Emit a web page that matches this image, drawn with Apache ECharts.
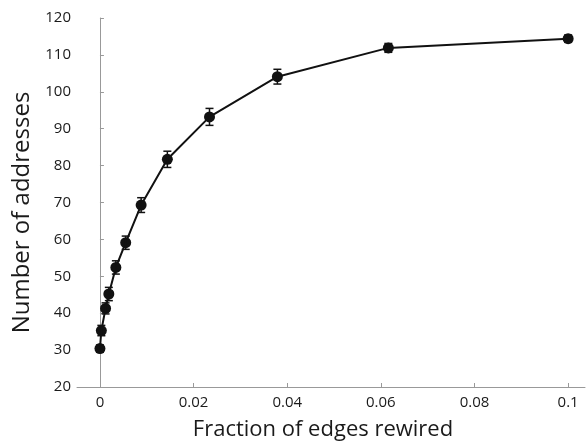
<!DOCTYPE html>
<html>
<head>
<meta charset="utf-8">
<script src="https://cdn.jsdelivr.net/npm/echarts@6/dist/echarts.min.js"></script>
<style>
  html, body { margin: 0; padding: 0; background: #fff; }
  #chart { width: 587px; height: 443px; }
</style>
</head>
<body>
<div id="chart"></div>
<script>
// fraction of edges rewired (x) and number of addresses (y)
const fractions = [0, 0.0003, 0.0012, 0.0019, 0.0034, 0.0055, 0.0088, 0.0144, 0.0234, 0.0379, 0.0616, 0.1];
const addresses = [30.4, 35.3, 41.3, 45.2, 52.4, 59.1, 69.3, 81.7, 93.2, 104.1, 111.9, 114.4];
// error bar half size
const errors = [1.0, 1.4, 1.5, 1.8, 1.8, 1.8, 2.0, 2.2, 2.3, 2.0, 1.2, 1.0];
// tick labels
const xTicks = [0, 0.02, 0.04, 0.06, 0.08, 0.1];
const yTicks = [20, 30, 40, 50, 60, 70, 80, 90, 100, 110, 120];

const chart = echarts.init(document.getElementById('chart'));

const linePoints = fractions.map((x, i) => [x, addresses[i]]);
const errPoints = fractions.map((x, i) => [x, addresses[i] - errors[i], addresses[i] + errors[i]]);

const textColor = '#1a1a1a';
const axisColor = '#999';
const font = 'Open Sans';

// 误差线
function renderErr(params, api) {
  const lo = api.coord([api.value(0), api.value(1)]);
  const hi = api.coord([api.value(0), api.value(2)]);
  const w = 4;
  const style = { stroke: '#111', lineWidth: 1.5 };
  return {
    type: 'group',
    children: [
      { type: 'line', shape: { x1: lo[0], y1: lo[1], x2: hi[0], y2: hi[1] }, style: style },
      { type: 'line', shape: { x1: lo[0] - w, y1: lo[1], x2: lo[0] + w, y2: lo[1] }, style: style },
      { type: 'line', shape: { x1: hi[0] - w, y1: hi[1], x2: hi[0] + w, y2: hi[1] }, style: style }
    ]
  };
}

const option = {
  animation: false,
  backgroundColor: '#fff',
  grid: { left: 77, right: 2, top: 18, bottom: 56, containLabel: false, outerBoundsMode: 'none' },
  xAxis: {
    type: 'value',
    min: -0.0049,
    max: 0.1036,
    name: 'Fraction of edges rewired',
    nameLocation: 'middle',
    nameGap: 32,
    nameTextStyle: { fontFamily: font, fontSize: 22, color: textColor, padding: [0, 16, 0, 0] },
    axisLine: { show: true, lineStyle: { color: axisColor, width: 1 } },
    axisTick: { show: true, inside: true, length: 4, customValues: xTicks, lineStyle: { color: axisColor } },
    axisLabel: {
      customValues: xTicks,
      margin: 8,
      fontFamily: font, fontSize: 15, color: textColor,
      formatter: v => String(v)
    },
    splitLine: { show: false }
  },
  yAxis: {
    type: 'value',
    min: 20,
    max: 120,
    interval: 10,
    name: 'Number of addresses',
    nameLocation: 'middle',
    nameGap: 40,
    nameTextStyle: { fontFamily: font, fontSize: 24, color: textColor, padding: [0, 20, 0, 0] },
    axisLine: { show: true, lineStyle: { color: axisColor, width: 1 } },
    axisTick: { show: true, inside: true, length: 4, lineStyle: { color: axisColor } },
    axisLabel: {
      customValues: yTicks,
      margin: 6,
      fontFamily: font, fontSize: 15, color: textColor
    },
    splitLine: { show: false }
  },
  series: [
    {
      type: 'custom',
      renderItem: renderErr,
      data: errPoints,
      encode: { x: 0, y: [1, 2] },
      z: 3
    },
    {
      type: 'line',
      data: linePoints,
      symbol: 'circle',
      symbolSize: 11,
      itemStyle: { color: '#111' },
      lineStyle: { color: '#111', width: 2 },
      z: 2
    }
  ]
};

chart.setOption(option);
</script>
</body>
</html>
